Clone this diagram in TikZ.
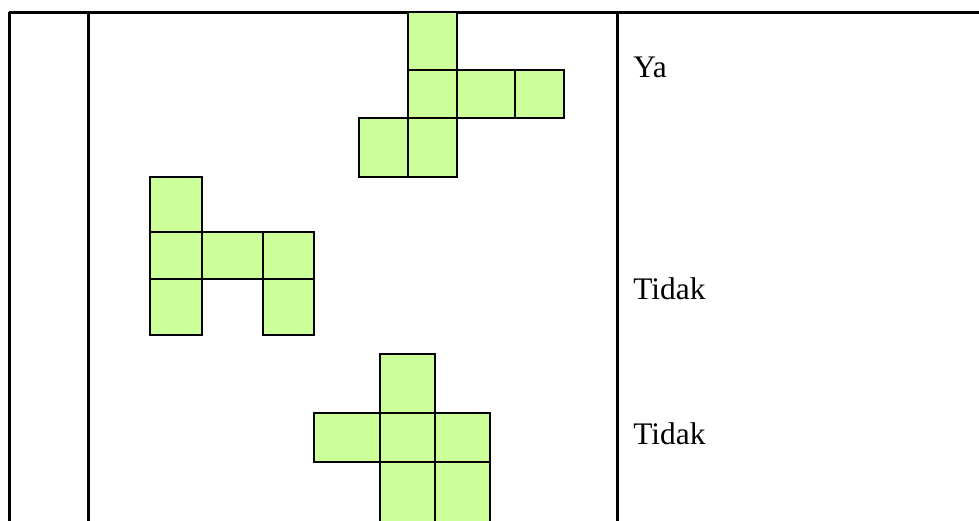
\documentclass[tikz,border=0pt]{standalone}
\usepackage{fontspec}
\setmainfont{Liberation Serif}
\definecolor{netgreen}{RGB}{204,255,153}
\tikzset{
  rule/.style   = {draw=black, line width=1.5pt},
  face/.style   = {draw=black, line width=1pt, fill=netgreen},
  answer/.style = {font=\fontsize{15.7}{18}\selectfont, anchor=base west, inner sep=0pt},
}
% one face of a cube net: lower-left and upper-right corners in pixel units
\newcommand{\face}[4]{\draw[face] (#1,#2) rectangle (#3,#4);}

\begin{document}
\begin{tikzpicture}[x=0.5pt,y=-0.5pt]
\clip (0,0) rectangle (979,520);
\useasboundingbox (0,0) rectangle (979,520);

% ---- table frame (the rows run on past the bottom edge)
\draw[rule] (9,12) -- (979,12);
\draw[rule] (9,12) -- (9,530);
\draw[rule] (88,12) -- (88,530);
\draw[rule] (617,12) -- (617,530);

% ---- net 1
\face{408}{12}{457}{70}
\face{408}{70}{457}{118}
\face{457}{70}{515}{118}
\face{515}{70}{564}{118}
\face{359}{118}{408}{177}
\face{408}{118}{457}{177}

% ---- net 2
\face{150}{177}{202}{232}
\face{150}{232}{202}{279}
\face{202}{232}{263}{279}
\face{263}{232}{314}{279}
\face{150}{279}{202}{335}
\face{263}{279}{314}{335}

% ---- net 3
\face{380}{354}{435}{413}
\face{314}{413}{380}{462}
\face{380}{413}{435}{462}
\face{435}{413}{490}{462}
\face{380}{462}{435}{530}
\face{435}{462}{490}{530}

% ---- answers
\node[answer] (ans1) at (633,77) {Ya};
\node[answer] (ans2) at (633,299) {Tidak};
\node[answer] (ans3) at (633,444) {Tidak};

\end{tikzpicture}
\end{document}
